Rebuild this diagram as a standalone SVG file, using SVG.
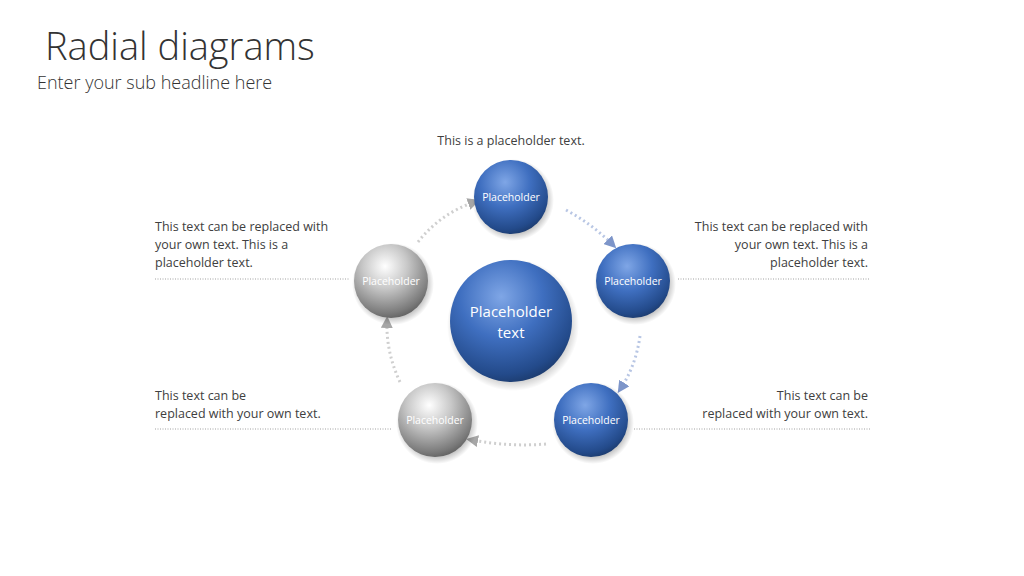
<svg xmlns="http://www.w3.org/2000/svg" width="1024" height="576" viewBox="0 0 1024 576">
<defs>
<radialGradient id="blue" cx="0.42" cy="0.3" r="0.75">
<stop offset="0" stop-color="#7fa6e6"/><stop offset="0.45" stop-color="#3f6fc0"/><stop offset="0.85" stop-color="#234a8a"/><stop offset="1" stop-color="#1a3766"/>
</radialGradient>
<radialGradient id="gray" cx="0.42" cy="0.3" r="0.75">
<stop offset="0" stop-color="#ffffff"/><stop offset="0.4" stop-color="#c8c8c8"/><stop offset="0.85" stop-color="#7a7a7a"/><stop offset="1" stop-color="#5a5a5a"/>
</radialGradient>
<radialGradient id="shadow" cx="0.5" cy="0.5" r="0.5">
<stop offset="0.8" stop-color="#000" stop-opacity="0.25"/><stop offset="1" stop-color="#000" stop-opacity="0"/>
</radialGradient>
<marker id="ab" viewBox="0 0 10 10" refX="5" refY="5" markerWidth="4" markerHeight="4" orient="auto"><path d="M0,0L10,5L0,10z" fill="#7d95c9"/></marker>
<marker id="ag" viewBox="0 0 10 10" refX="5" refY="5" markerWidth="4" markerHeight="4" orient="auto"><path d="M0,0L10,5L0,10z" fill="#a6a6a6"/></marker>
</defs>
<style>
text{font-family:"Open Sans","Liberation Sans",sans-serif;fill:#404040}
.t{font-size:12.5px}
.s{font-size:10.5px;fill:#fff;text-anchor:middle}
.d{stroke:#a0a0a0;stroke-width:1;stroke-dasharray:1 1.5;fill:none}
.c{fill:none;stroke-width:3;stroke-dasharray:2 3}
</style>
<text x="45" y="60" style="font-size:38px;font-weight:300;fill:#333">Radial diagrams</text>
<text x="37" y="89" style="font-size:18px;font-weight:300;fill:#333">Enter your sub headline here</text>
<text x="511" y="145" class="t" text-anchor="middle">This is a placeholder text.</text>
<g id="text-tl"><text class="t" x="155" y="231">This text can be replaced with</text><text class="t" x="155" y="249">your own text. This is a</text><text class="t" x="155" y="267">placeholder text.</text><line class="d" x1="155" y1="279" x2="350" y2="279"/></g>
<g id="text-tr" text-anchor="end"><text class="t" x="868" y="231">This text can be replaced with</text><text class="t" x="868" y="249">your own text. This is a</text><text class="t" x="868" y="267">placeholder text.</text><line class="d" x1="678" y1="279" x2="870" y2="279"/></g>
<g id="text-bl"><text class="t" x="155" y="400">This text can be</text><text class="t" x="155" y="418">replaced with your own text.</text><line class="d" x1="155" y1="429" x2="392" y2="429"/></g>
<g id="text-br" text-anchor="end"><text class="t" x="868" y="400">This text can be</text><text class="t" x="868" y="418">replaced with your own text.</text><line class="d" x1="634" y1="429" x2="870" y2="429"/></g>
<g id="connectors">
<path class="c" stroke="#b8c6e4" d="M566,210 Q592,224 612,244" marker-end="url(#ab)"/>
<path class="c" stroke="#b8c6e4" d="M640,336 Q636,365 621,388" marker-end="url(#ab)"/>
<path class="c" stroke="#cfcfcf" d="M546,444 Q510,447 472,440" marker-end="url(#ag)"/>
<path class="c" stroke="#cfcfcf" d="M400,382 Q386,352 387,322" marker-end="url(#ag)"/>
<path class="c" stroke="#cfcfcf" d="M418,242 Q440,214 474,202" marker-end="url(#ag)"/>
</g>
<g id="center"><circle cx="513" cy="325" r="66" fill="url(#shadow)"/><circle cx="511" cy="321" r="61" fill="url(#blue)"/><text class="s" x="511" y="317" style="font-size:15px">Placeholder</text><text class="s" x="511" y="338" style="font-size:15px">text</text></g>
<g id="n-top"><circle cx="513" cy="200" r="41" fill="url(#shadow)"/><circle cx="511" cy="197" r="37" fill="url(#blue)"/><text class="s" x="511" y="201">Placeholder</text></g>
<g id="n-right"><circle cx="635" cy="284" r="41" fill="url(#shadow)"/><circle cx="633" cy="281" r="37" fill="url(#blue)"/><text class="s" x="633" y="285">Placeholder</text></g>
<g id="n-br"><circle cx="593" cy="423" r="41" fill="url(#shadow)"/><circle cx="591" cy="420" r="37" fill="url(#blue)"/><text class="s" x="591" y="424">Placeholder</text></g>
<g id="n-bl"><circle cx="437" cy="423" r="41" fill="url(#shadow)"/><circle cx="435" cy="420" r="37" fill="url(#gray)"/><text class="s" x="435" y="424">Placeholder</text></g>
<g id="n-left"><circle cx="393" cy="284" r="41" fill="url(#shadow)"/><circle cx="391" cy="281" r="37" fill="url(#gray)"/><text class="s" x="391" y="285">Placeholder</text></g>
</svg>
